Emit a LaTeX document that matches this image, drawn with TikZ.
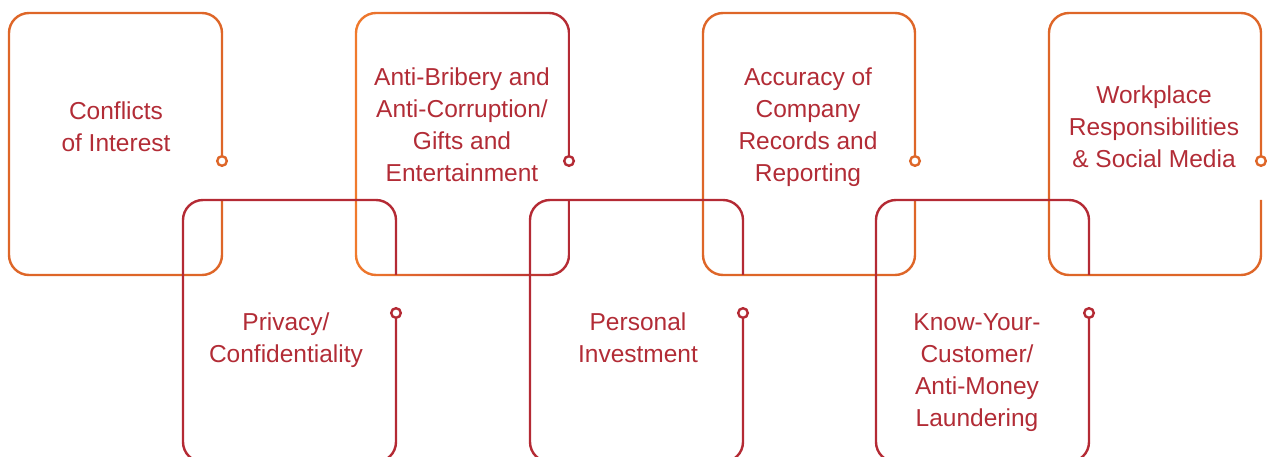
\documentclass[tikz,border=0pt]{standalone}
\usepackage{fontspec}
\setmainfont{Liberation Sans}
\definecolor{orng}{RGB}{222,102,40}
\definecolor{orngL}{RGB}{240,122,44}
\definecolor{crim}{RGB}{180,42,52}
\definecolor{txt}{RGB}{178,44,54}
\begin{document}
\begin{tikzpicture}[x=1pt,y=-1pt,line width=2.4pt,
  lbl/.style={text=txt,align=center,font=\fontsize{24.5}{32}\selectfont,inner sep=0pt},
  topline/.style={draw=orng,rounded corners=20pt},
  botline/.style={draw=crim,rounded corners=20pt},
  endo/.style={draw=orng,fill=white},
  endr/.style={draw=crim,fill=white}]
\useasboundingbox (0,0) rectangle (1267,457);
\clip (0,0) rectangle (1267,457);
% top boxes
\draw[topline] (222,156.2) -- (222,13) -- (9,13) -- (9,275) -- (222,275) -- (222,200);
\draw[endo] (222,161) circle (4.8pt);
\shade[left color=orngL,right color=crim,even odd rule]
  [rounded corners=21.2pt] (354.8,11.8) rectangle (570.2,276.2)
  [rounded corners=18.8pt] (357.2,14.2) rectangle (567.8,273.8);
\fill[white] (565,164) rectangle (573,199);
\draw[endr] (569,161) circle (4.8pt);
\draw[topline] (915,156.2) -- (915,13) -- (703,13) -- (703,275) -- (915,275) -- (915,200);
\draw[endo] (915,161) circle (4.8pt);
\draw[topline] (1261,156.2) -- (1261,13) -- (1049,13) -- (1049,275) -- (1261,275) -- (1261,200);
\draw[endo] (1261,161) circle (4.8pt);
% bottom boxes
\draw[botline] (396,317.8) -- (396,462) -- (183,462) -- (183,200) -- (396,200) -- (396,275);
\draw[endr] (396,313) circle (4.8pt);
\draw[botline] (743,317.8) -- (743,462) -- (530,462) -- (530,200) -- (743,200) -- (743,275);
\draw[endr] (743,313) circle (4.8pt);
\draw[botline] (1089,317.8) -- (1089,462) -- (876,462) -- (876,200) -- (1089,200) -- (1089,275);
\draw[endr] (1089,313) circle (4.8pt);
% labels
\node[lbl] (t1) at (116,126.5) {Conflicts\\of Interest};
\node[lbl] (t2) at (462,125) {Anti-Bribery and\\Anti-Corruption/\\Gifts and\\Entertainment};
\node[lbl] (t3) at (808,127) {Accuracy of\\Company\\Records and\\Reporting};
\node[lbl] (t4) at (1154,127) {Workplace\\Responsibilities\\\& Social Media};
\node[lbl] (b1) at (286,340) {Privacy/\\Confidentiality};
\node[lbl] (b2) at (638,338) {Personal\\Investment};
\node[lbl] (b3) at (977,372.5) {Know-Your-\\Customer/\\Anti-Money\\Laundering};
\end{tikzpicture}
\end{document}
